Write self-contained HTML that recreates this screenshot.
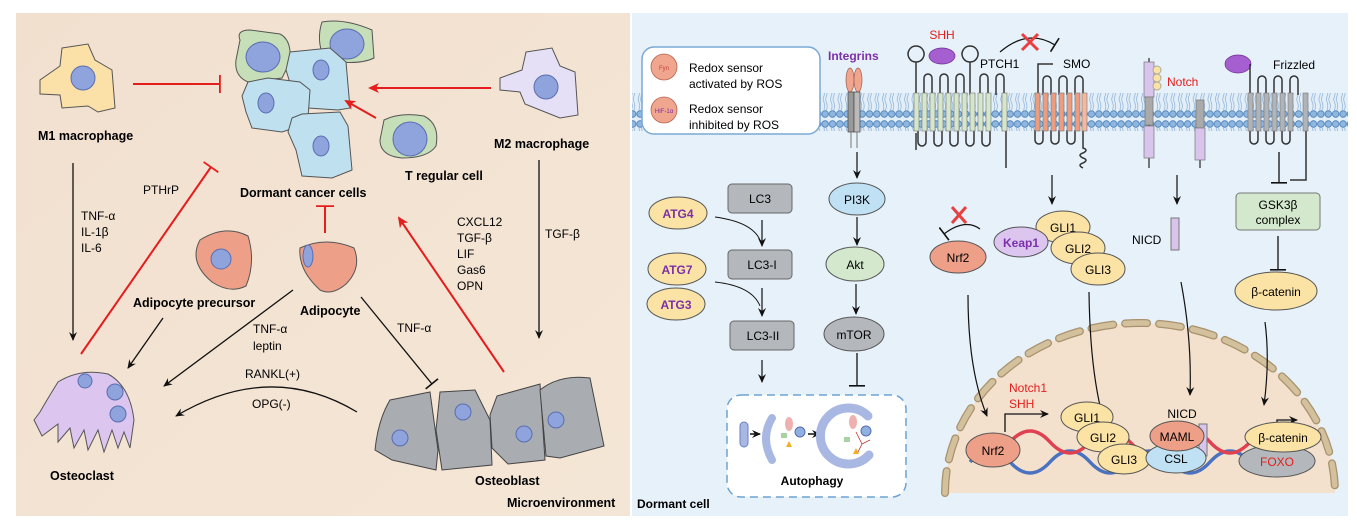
<!DOCTYPE html>
<html><head><meta charset="utf-8"><style>
html,body{margin:0;padding:0;background:#fff;}
svg{display:block;font-family:"Liberation Sans",sans-serif;}
.b{font-weight:bold;}
</style></head><body>
<svg width="1357" height="528" viewBox="0 0 1357 528" xmlns="http://www.w3.org/2000/svg">
<defs>
<linearGradient id="lp" x1="0" y1="0" x2="1" y2="1"><stop offset="0" stop-color="#f2e0cf"/><stop offset="1" stop-color="#f4e6d6"/></linearGradient>
<marker id="ab" markerWidth="10" markerHeight="10" refX="8" refY="5" orient="auto" markerUnits="userSpaceOnUse"><path d="M0,1 L9,5 L0,9 L3,5z" fill="#111"/></marker>
<marker id="ar" markerWidth="12" markerHeight="12" refX="9" refY="6" orient="auto" markerUnits="userSpaceOnUse"><path d="M0,1 L11,6 L0,11 L3,6z" fill="#e41d1d"/></marker>
<marker id="tb" markerWidth="4" markerHeight="16" refX="2" refY="8" orient="auto" markerUnits="userSpaceOnUse"><rect x="1" y="0" width="1.6" height="16" fill="#111"/></marker>
<marker id="tr" markerWidth="4" markerHeight="18" refX="2" refY="9" orient="auto" markerUnits="userSpaceOnUse"><rect x="1" y="0" width="1.8" height="18" fill="#e41d1d"/></marker>
<pattern id="heads" x="0" y="0" width="7.4" height="40" patternUnits="userSpaceOnUse">
<circle cx="3.7" cy="4" r="3.3" fill="#8fb6de" stroke="#4a7fb8" stroke-width="0.8"/>
<circle cx="3.7" cy="34" r="3.3" fill="#8fb6de" stroke="#4a7fb8" stroke-width="0.8"/>
<path d="M2.5,8 q1.5,4 0,8 q-1.5,4 0,6 M5,8 q1.5,4 0,8 q-1.5,4 0,6 M2.5,30 q1.5,-4 0,-8 M5,30 q1.5,-4 0,-8" stroke="#7aa3cf" stroke-width="0.6" fill="none"/>
</pattern>
</defs>

<!-- LEFT PANEL -->
<rect x="16" y="13" width="614" height="503" fill="url(#lp)"/>
<path d="M62,48 L88,44 L95,60 L112,70 L115,108 L98,112 L88,106 L62,108 L60,95 L40,94 L40,80 L60,66z" fill="#fbe0a8" stroke="#555" stroke-width="1"/>
<circle cx="83" cy="78" r="12" fill="#8fa3dc" stroke="#5a6db0"/>
<text x="38" y="140" font-size="12.5" class="b">M1 macrophage</text>
<line x1="133" y1="84" x2="220" y2="84" stroke="#e41d1d" stroke-width="2" marker-end="url(#tr)"/>
<path d="M240,40 Q236,30 250,30 L280,34 Q292,40 290,62 L282,78 L248,82 Q234,76 236,60z" fill="#c6dfb8" stroke="#555"/>
<ellipse cx="263" cy="57" rx="17" ry="15" fill="#8fa3dc" stroke="#5a6db0"/>
<path d="M328,22 Q350,18 378,30 L380,58 Q368,64 346,62 L330,58 Q322,40 328,22z" fill="#c6dfb8" stroke="#555" transform="translate(-6,0)"/>
<ellipse cx="347" cy="44" rx="17" ry="15" fill="#8fa3dc" stroke="#5a6db0"/>
<path d="M290,52 L330,48 L346,62 L350,108 L338,110 L308,108 L294,96 L286,70z" fill="#bfe1ef" stroke="#555"/>
<ellipse cx="321" cy="70" rx="8" ry="10" fill="#8fa3dc" stroke="#5a6db0"/>
<path d="M248,82 L268,78 L300,82 L310,90 L308,118 L300,126 L282,132 L252,128 L246,112 L242,96z" fill="#bfe1ef" stroke="#555"/>
<ellipse cx="266" cy="103" rx="8" ry="10" fill="#8fa3dc" stroke="#5a6db0"/>
<path d="M292,118 L302,114 L340,112 L348,126 L352,170 L332,178 L302,176 L296,150 L288,132z" fill="#bfe1ef" stroke="#555"/>
<ellipse cx="321" cy="146" rx="8" ry="10" fill="#8fa3dc" stroke="#5a6db0"/>
<text x="240" y="197" font-size="12.5" class="b">Dormant cancer cells</text>
<path d="M526,52 L552,48 L560,66 L575,72 L578,115 L560,118 L545,112 L525,104 L520,92 L500,90 L500,78 L522,70z" fill="#e6e0f6" stroke="#555"/>
<circle cx="546" cy="87" r="12" fill="#8fa3dc" stroke="#5a6db0"/>
<text x="494" y="148" font-size="12.5" class="b">M2 macrophage</text>
<line x1="491" y1="88" x2="370" y2="88" stroke="#e41d1d" stroke-width="2" marker-end="url(#ar)"/>
<path d="M384,120 Q400,112 424,116 Q440,124 436,146 Q428,158 402,158 Q380,156 380,140z" fill="#c6dfb8" stroke="#555"/>
<circle cx="410" cy="139" r="17" fill="#8fa3dc" stroke="#5a6db0"/>
<text x="405" y="180" font-size="12.5" class="b">T regular cell</text>
<line x1="376" y1="118" x2="346" y2="101" stroke="#e41d1d" stroke-width="2" marker-end="url(#ar)"/>
<line x1="73" y1="163" x2="73" y2="340" stroke="#111" stroke-width="1.3" marker-end="url(#ab)"/>
<text x="81" y="220" font-size="12">TNF-α</text><text x="81" y="236" font-size="12">IL-1β</text><text x="81" y="252" font-size="12">IL-6</text>
<text x="143" y="194" font-size="12">PTHrP</text>
<line x1="81" y1="354" x2="211" y2="167" stroke="#e41d1d" stroke-width="2" marker-end="url(#tr)"/>
<line x1="325" y1="233" x2="325" y2="206" stroke="#e41d1d" stroke-width="2" marker-end="url(#tr)"/>
<path d="M200,240 Q225,224 248,236 Q256,262 246,286 Q230,294 212,282 Q188,262 200,240z" fill="#ee9f88" stroke="#555"/>
<circle cx="221" cy="259" r="10" fill="#8fa3dc" stroke="#5a6db0"/>
<text x="133" y="307" font-size="12.5" class="b">Adipocyte precursor</text>
<path d="M300,248 Q326,236 354,248 Q362,268 346,284 Q332,296 320,290 Q298,270 300,248z" fill="#ee9f88" stroke="#555"/>
<ellipse cx="308" cy="256" rx="5" ry="11" fill="#8fa3dc" stroke="#5a6db0"/>
<text x="300" y="315" font-size="12.5" class="b">Adipocyte</text>
<text x="457" y="226" font-size="12">CXCL12</text><text x="457" y="242" font-size="12">TGF-β</text><text x="457" y="258" font-size="12">LIF</text><text x="457" y="274" font-size="12">Gas6</text><text x="457" y="290" font-size="12">OPN</text>
<line x1="504" y1="372" x2="399" y2="218" stroke="#e41d1d" stroke-width="2" marker-end="url(#ar)"/>
<text x="545" y="238" font-size="12">TGF-β</text>
<line x1="539" y1="160" x2="539" y2="338" stroke="#111" stroke-width="1.3" marker-end="url(#ab)"/>
<line x1="163" y1="318" x2="128" y2="368" stroke="#111" stroke-width="1.3" marker-end="url(#ab)"/>
<line x1="293" y1="290" x2="164" y2="386" stroke="#111" stroke-width="1.3" marker-end="url(#ab)"/>
<text x="253" y="333" font-size="12">TNF-α</text><text x="253" y="350" font-size="12">leptin</text>
<line x1="361" y1="297" x2="432" y2="384" stroke="#111" stroke-width="1.3" marker-end="url(#tb)"/>
<text x="397" y="332" font-size="12">TNF-α</text>
<text x="245" y="378" font-size="12">RANKL(+)</text>
<path d="M357,412 Q270,360 176,416" fill="none" stroke="#111" stroke-width="1.3" marker-end="url(#ab)"/>
<text x="252" y="408" font-size="12">OPG(-)</text>
<path d="M58,382 Q80,368 108,374 Q130,386 134,420 L130,448 L124,432 L118,448 L112,430 L104,452 L98,430 L88,450 L84,430 L74,448 L70,428 L58,442 L58,424 L42,436 L34,420 L40,412 Q48,398 58,382z" fill="#dcc6f0" stroke="#555"/>
<circle cx="85" cy="381" r="7" fill="#8fa3dc" stroke="#5a6db0"/>
<circle cx="115" cy="392" r="8" fill="#8fa3dc" stroke="#5a6db0"/>
<circle cx="118" cy="414" r="8" fill="#8fa3dc" stroke="#5a6db0"/>
<text x="50" y="480" font-size="12.5" class="b">Osteoclast</text>
<path d="M390,400 L430,392 L438,450 L436,470 L392,460 L375,450 Q378,420 390,400z" fill="#a9adb2" stroke="#444"/>
<path d="M440,392 L475,390 L490,420 L492,465 L442,470 L436,430z" fill="#a9adb2" stroke="#444"/>
<path d="M497,396 L540,384 L545,460 L508,464 L492,448 L490,415z" fill="#a9adb2" stroke="#444"/>
<path d="M540,390 Q560,374 590,378 L604,446 L560,458 L546,456z" fill="#a9adb2" stroke="#444"/>
<circle cx="400" cy="438" r="8" fill="#8fa3dc" stroke="#5a6db0"/>
<circle cx="463" cy="412" r="8" fill="#8fa3dc" stroke="#5a6db0"/>
<circle cx="524" cy="434" r="8" fill="#8fa3dc" stroke="#5a6db0"/>
<circle cx="556" cy="420" r="8" fill="#8fa3dc" stroke="#5a6db0"/>
<text x="475" y="485" font-size="12.5" class="b">Osteoblast</text>
<text x="507" y="507" font-size="12.5" class="b">Microenvironment</text>

<!-- RIGHT PANEL -->
<rect x="632" y="13" width="716" height="503" fill="#e7f1f9"/>
<rect x="632" y="93" width="716" height="38" fill="#e2eef8"/>
<rect x="632" y="93" width="716" height="38" fill="url(#heads)"/>
<rect x="642" y="47" width="178" height="87" rx="12" fill="#fff" stroke="#7aa9d6" stroke-width="1.5"/>
<circle cx="664" cy="67" r="13" fill="#f0a58e" stroke="#b7644f" stroke-width="0.8"/>
<text x="664" y="70" font-size="6" fill="#c04040" text-anchor="middle">Fyn</text>
<text x="689" y="72" font-size="12">Redox sensor</text><text x="689" y="88" font-size="12">activated by ROS</text>
<circle cx="664" cy="110" r="13" fill="#f0a58e" stroke="#b7644f" stroke-width="0.8"/>
<text x="664" y="113" font-size="6" fill="#8030a0" text-anchor="middle">HIF-1α</text>
<text x="689" y="113" font-size="12">Redox sensor</text><text x="689" y="129" font-size="12">inhibited by ROS</text>
<text x="828" y="60" font-size="12" fill="#7b2fa8" class="b">Integrins</text>
<ellipse cx="850" cy="80" rx="4" ry="12" fill="#f0a58e" stroke="#a06050" stroke-width="0.7"/>
<ellipse cx="858" cy="80" rx="4" ry="12" fill="#f0a58e" stroke="#a06050" stroke-width="0.7"/>
<rect x="848" y="92" width="6" height="40" fill="#999" stroke="#444" stroke-width="0.7"/>
<rect x="854" y="92" width="6" height="40" fill="#bbb" stroke="#444" stroke-width="0.7"/>
<line x1="851" y1="132" x2="851" y2="148" stroke="#777"/><line x1="857" y1="132" x2="857" y2="148" stroke="#777"/>
<line x1="857" y1="152" x2="857" y2="178" stroke="#111" stroke-width="1.2" marker-end="url(#ab)"/>
<ellipse cx="857" cy="199" rx="28" ry="16" fill="#bfe1f3" stroke="#555"/><text x="857" y="204" font-size="12" text-anchor="middle">PI3K</text>
<line x1="857" y1="217" x2="857" y2="245" stroke="#111" stroke-width="1.2" marker-end="url(#ab)"/>
<ellipse cx="855" cy="264" rx="29" ry="17" fill="#d3e8cc" stroke="#555"/><text x="855" y="269" font-size="12" text-anchor="middle">Akt</text>
<line x1="856" y1="284" x2="856" y2="314" stroke="#111" stroke-width="1.2" marker-end="url(#ab)"/>
<ellipse cx="854" cy="334" rx="30" ry="17" fill="#b4b8bc" stroke="#555"/><text x="854" y="339" font-size="12" text-anchor="middle">mTOR</text>
<line x1="857" y1="353" x2="857" y2="386" stroke="#111" stroke-width="1.3" marker-end="url(#tb)"/>
<rect x="728" y="184" width="64" height="29" rx="4" fill="#b4b8bc" stroke="#666"/><text x="760" y="203" font-size="12" text-anchor="middle">LC3</text>
<rect x="728" y="250" width="64" height="29" rx="4" fill="#b4b8bc" stroke="#666"/><text x="762" y="269" font-size="12" text-anchor="middle">LC3-I</text>
<rect x="730" y="321" width="64" height="29" rx="4" fill="#b4b8bc" stroke="#666"/><text x="763" y="340" font-size="12" text-anchor="middle">LC3-II</text>
<ellipse cx="678" cy="213" rx="29" ry="16" fill="#fbe3a6" stroke="#555"/><text x="678" y="218" font-size="12" class="b" fill="#7b2fa8" text-anchor="middle">ATG4</text>
<ellipse cx="677" cy="269" rx="29" ry="16" fill="#fbe3a6" stroke="#555"/><text x="677" y="274" font-size="12" class="b" fill="#7b2fa8" text-anchor="middle">ATG7</text>
<ellipse cx="676" cy="304" rx="29" ry="16" fill="#fbe3a6" stroke="#555"/><text x="676" y="309" font-size="12" class="b" fill="#7b2fa8" text-anchor="middle">ATG3</text>
<line x1="762" y1="220" x2="762" y2="246" stroke="#111" stroke-width="1.2" marker-end="url(#ab)"/>
<path d="M715,217 Q752,222 760,240" fill="none" stroke="#111" stroke-width="0.9"/>
<line x1="762" y1="288" x2="762" y2="316" stroke="#111" stroke-width="1.2" marker-end="url(#ab)"/>
<path d="M715,282 Q752,286 760,306" fill="none" stroke="#111" stroke-width="0.9"/>
<line x1="762" y1="360" x2="762" y2="382" stroke="#111" stroke-width="1.2" marker-end="url(#ab)"/>
<rect x="727" y="395" width="179" height="102" rx="14" fill="#fff" stroke="#6fa3d3" stroke-width="1.5" stroke-dasharray="8,5"/>
<rect x="740" y="422" width="8" height="25" rx="4" fill="#a9b7e3" stroke="#6c7fc0"/>
<path d="M772,418 Q760,438 772,460" fill="none" stroke="#a9b7e3" stroke-width="8" stroke-linecap="round"/>
<line x1="750" y1="434" x2="760" y2="434" stroke="#111" stroke-width="1.5" marker-end="url(#ab)"/>
<ellipse cx="789" cy="424" rx="4" ry="7" fill="#f0b0b0"/><circle cx="800" cy="432" r="5" fill="#8fb0e0" stroke="#5a6db0"/>
<rect x="781" y="433" width="6" height="5" fill="#a8d3a0"/><path d="M789,441 l3,6 h-6z" fill="#f0b020"/>
<line x1="808" y1="434" x2="820" y2="434" stroke="#111" stroke-width="1.5" marker-end="url(#ab)"/>
<path d="M868,416 A28,28 0 1 0 869,455" fill="none" stroke="#a9b7e3" stroke-width="9" stroke-linecap="round"/>
<ellipse cx="853" cy="422" rx="4" ry="7" fill="#f0b0b0"/><circle cx="866" cy="431" r="5" fill="#8fb0e0" stroke="#5a6db0"/>
<rect x="844" y="437" width="6" height="5" fill="#a8d3a0"/><path d="M856,448 l3,6 h-6z" fill="#f0b020"/>
<path d="M856,432 l6,12 l8,-4 M862,444 l-4,8" stroke="#c03030" fill="none" stroke-width="0.8"/>
<text x="812" y="485" font-size="12" class="b" text-anchor="middle">Autophagy</text>
<text x="637" y="508" font-size="12" class="b">Dormant cell</text>
<text x="942" y="39" font-size="12" fill="#e41d1d" text-anchor="middle">SHH</text>
<ellipse cx="942" cy="56" rx="13" ry="8" fill="#a55fd0" stroke="#6a3090" stroke-width="0.7"/>
<path d="M916,133 V 150 M916,95 V62 a8,8 0 1 1 0.1,0 M970,95 V62 a8,8 0 1 1 0.1,0 M1006,130 V168" fill="none" stroke="#333" stroke-width="1.5"/>
<path d="M924,95 V78 a4,4 0 0 1 8,0 V95 M940,95 V78 a4,4 0 0 1 8,0 V95 M956,95 V78 a4,4 0 0 1 8,0 V95 M980,95 V78 a4,4 0 0 1 8,0 V95 M996,95 V78 a4,4 0 0 1 8,0 V95 M918,130 v12 a4,4 0 0 0 8,0 v-12 M934,130 v12 a4,4 0 0 0 8,0 v-12 M950,130 v12 a4,4 0 0 0 8,0 v-12 M966,130 v12 a4,4 0 0 0 8,0 v-12 M982,130 v12 a4,4 0 0 0 8,0 v-12" fill="none" stroke="#333" stroke-width="1.5"/>
<g fill="#d5e6cc" stroke="#777" stroke-width="0.6">
<rect x="914" y="93" width="5" height="38"/><rect x="922" y="93" width="5" height="38"/><rect x="930" y="93" width="5" height="38"/><rect x="938" y="93" width="5" height="38"/><rect x="946" y="93" width="5" height="38"/><rect x="954" y="93" width="5" height="38"/><rect x="962" y="93" width="5" height="38"/><rect x="970" y="93" width="5" height="38"/><rect x="978" y="93" width="5" height="38"/><rect x="986" y="93" width="5" height="38"/><rect x="1002" y="93" width="5" height="38"/>
</g>
<text x="980" y="68" font-size="12">PTCH1</text>
<text x="1063" y="68" font-size="12">SMO</text>
<path d="M1000,52 Q1028,28 1055,45" fill="none" stroke="#111" stroke-width="1.2" marker-end="url(#tb)"/>
<path d="M1022,34 L1038,50 M1038,34 L1022,50" stroke="#e84040" stroke-width="3"/>
<path d="M1053,64 H1038 V95 M1035,130 v10 a4,4 0 0 0 8,0 v-10 M1051,130 v10 a4,4 0 0 0 8,0 v-10 M1067,130 v10 a4,4 0 0 0 8,0 v-10 M1043,95 V80 a4,4 0 0 1 8,0 V95 M1059,95 V80 a4,4 0 0 1 8,0 V95 M1075,95 V80 a4,4 0 0 1 8,0 V95 M1083,130 V148 q6,2 0,5 q-6,2 0,5 q6,2 0,5 q-6,2 0,5" fill="none" stroke="#333" stroke-width="1.5"/>
<g fill="#ee9c7e" stroke="#777" stroke-width="0.6">
<rect x="1035" y="93" width="5" height="38"/><rect x="1043" y="93" width="5" height="38"/><rect x="1051" y="93" width="5" height="38"/><rect x="1059" y="93" width="5" height="38"/><rect x="1067" y="93" width="5" height="38"/><rect x="1075" y="93" width="5" height="38"/><rect x="1082" y="93" width="5" height="38" fill="#f5b89e"/>
</g>
<line x1="1149" y1="58" x2="1149" y2="168" stroke="#333" stroke-width="1.3"/>
<rect x="1144" y="62" width="10" height="35" fill="#d9c4ec" stroke="#777" stroke-width="0.7"/>
<rect x="1145" y="97" width="8" height="28" fill="#aaa" stroke="#777" stroke-width="0.7"/>
<rect x="1144" y="126" width="10" height="32" fill="#d9c4ec" stroke="#777" stroke-width="0.7"/>
<circle cx="1157" cy="70" r="4" fill="#fbe3a6" stroke="#aa9"/><circle cx="1157" cy="78" r="4" fill="#fbe3a6" stroke="#aa9"/><circle cx="1157" cy="86" r="4" fill="#fbe3a6" stroke="#aa9"/>
<text x="1167" y="86" font-size="12" fill="#e41d1d">Notch</text>
<line x1="1200" y1="100" x2="1200" y2="168" stroke="#333" stroke-width="1.3"/>
<rect x="1196" y="100" width="8" height="28" fill="#aaa" stroke="#777" stroke-width="0.7"/>
<rect x="1195" y="128" width="10" height="32" fill="#d9c4ec" stroke="#777" stroke-width="0.7"/>
<ellipse cx="1238" cy="64" rx="13" ry="9" fill="#a55fd0" stroke="#6a3090" stroke-width="0.7"/>
<text x="1273" y="69" font-size="12">Frizzled</text>
<path d="M1250,64 V95 M1250,130 v10 a4,4 0 0 0 8,0 v-10 M1266,130 v10 a4,4 0 0 0 8,0 v-10 M1282,130 v10 a4,4 0 0 0 8,0 v-10 M1258,95 V80 a4,4 0 0 1 8,0 V95 M1274,95 V80 a4,4 0 0 1 8,0 V95 M1290,95 V80 a4,4 0 0 1 8,0 V95 M1306,130 V180 H1290" fill="none" stroke="#333" stroke-width="1.5"/>
<g fill="#b0b4b8" stroke="#777" stroke-width="0.6">
<rect x="1248" y="93" width="5" height="38"/><rect x="1256" y="93" width="5" height="38"/><rect x="1264" y="93" width="5" height="38"/><rect x="1272" y="93" width="5" height="38"/><rect x="1280" y="93" width="5" height="38"/><rect x="1288" y="93" width="5" height="38"/><rect x="1303" y="93" width="5" height="38"/>
</g>
<line x1="1279" y1="152" x2="1279" y2="183" stroke="#111" stroke-width="1.3" marker-end="url(#tb)"/>
<rect x="1236" y="193" width="84" height="37" rx="4" fill="#d3e8cc" stroke="#777"/>
<text x="1278" y="209" font-size="12" text-anchor="middle">GSK3β</text><text x="1278" y="224" font-size="12" text-anchor="middle">complex</text>
<line x1="1278" y1="236" x2="1278" y2="270" stroke="#111" stroke-width="1.3" marker-end="url(#tb)"/>
<ellipse cx="1276" cy="291" rx="41" ry="19" fill="#fbe3a6" stroke="#555"/><text x="1276" y="296" font-size="12" text-anchor="middle">β-catenin</text>
<line x1="1052" y1="175" x2="1052" y2="204" stroke="#111" stroke-width="1.2" marker-end="url(#ab)"/>
<ellipse cx="1063" cy="227" rx="27" ry="16" fill="#fbe3a6" stroke="#555"/><text x="1063" y="232" font-size="12" text-anchor="middle">GLI1</text>
<ellipse cx="1078" cy="248" rx="27" ry="16" fill="#fbe3a6" stroke="#555"/><text x="1078" y="253" font-size="12" text-anchor="middle">GLI2</text>
<ellipse cx="1098" cy="269" rx="27" ry="16" fill="#fbe3a6" stroke="#555"/><text x="1098" y="274" font-size="12" text-anchor="middle">GLI3</text>
<line x1="1177" y1="175" x2="1177" y2="204" stroke="#111" stroke-width="1.2" marker-end="url(#ab)"/>
<text x="1132" y="244" font-size="12">NICD</text>
<rect x="1171" y="218" width="8" height="32" fill="#d9c4ec" stroke="#777"/>
<ellipse cx="1021" cy="242" rx="27" ry="15" fill="#dcc6f0" stroke="#555"/><text x="1021" y="247" font-size="12" fill="#7b2fa8" class="b" text-anchor="middle">Keap1</text>
<ellipse cx="958" cy="257" rx="28" ry="16" fill="#ee9f88" stroke="#555"/><text x="958" y="262" font-size="12" text-anchor="middle">Nrf2</text>
<path d="M980,229 Q965,218 944,234" fill="none" stroke="#111" stroke-width="1.2" marker-end="url(#tb)"/>
<path d="M952,207 L966,223 M966,207 L952,223" stroke="#e84040" stroke-width="3"/>
<path d="M945,493 A195,170 0 0 1 1335,493 Z" fill="#f3e1ce"/>
<path d="M945,493 A195,170 0 0 1 1335,493" fill="none" stroke="#a8916c" stroke-width="8" stroke-dasharray="22,12" stroke-linecap="round"/>
<path d="M945,493 A195,170 0 0 1 1335,493" fill="none" stroke="#d3c09c" stroke-width="5.5" stroke-dasharray="22,12" stroke-linecap="round"/>
<path d="M968,295 Q968,370 987,416" fill="none" stroke="#111" stroke-width="1.2" marker-end="url(#ab)"/>
<path d="M1089,292 Q1090,370 1103,418" fill="none" stroke="#111" stroke-width="1.2" marker-end="url(#ab)"/>
<path d="M1181,282 Q1192,340 1190,395" fill="none" stroke="#111" stroke-width="1.2" marker-end="url(#ab)"/>
<path d="M1265,322 Q1270,360 1264,405" fill="none" stroke="#111" stroke-width="1.2" marker-end="url(#ab)"/>
<text x="1009" y="392" font-size="12" fill="#e41d1d">Notch1</text><text x="1009" y="408" font-size="12" fill="#e41d1d">SHH</text>
<path d="M970,462 Q990,440 1010,462 T1050,462 T1090,462 T1130,462 T1170,462 T1210,462 T1250,462 T1290,462" fill="none" stroke="#4a72c0" stroke-width="3.5"/>
<path d="M970,442 Q990,464 1010,442 T1050,442 T1090,442 T1130,442 T1170,442 T1210,442 T1250,442 T1290,442 T1310,462" fill="none" stroke="#e04050" stroke-width="3.5"/>
<path d="M1005,432 V414 H1048" fill="none" stroke="#111" stroke-width="1.3" marker-end="url(#ab)"/>
<path d="M1277,440 V420 H1297" fill="none" stroke="#111" stroke-width="1.3" marker-end="url(#ab)"/>
<ellipse cx="993" cy="450" rx="27" ry="17" fill="#ee9f88" stroke="#555"/><text x="993" y="455" font-size="12" text-anchor="middle">Nrf2</text>
<ellipse cx="1087" cy="417" rx="26" ry="15" fill="#fbe3a6" stroke="#555"/><text x="1087" y="422" font-size="12" text-anchor="middle">GLI1</text>
<ellipse cx="1103" cy="437" rx="26" ry="15" fill="#fbe3a6" stroke="#555"/><text x="1103" y="442" font-size="12" text-anchor="middle">GLI2</text>
<ellipse cx="1124" cy="459" rx="26" ry="15" fill="#fbe3a6" stroke="#555"/><text x="1124" y="464" font-size="12" text-anchor="middle">GLI3</text>
<text x="1182" y="418" font-size="12" text-anchor="middle">NICD</text>
<rect x="1199" y="424" width="8" height="32" fill="#d9c4ec" stroke="#777"/>
<ellipse cx="1176" cy="458" rx="30" ry="15" fill="#bfe1f3" stroke="#555"/><text x="1176" y="463" font-size="12" text-anchor="middle">CSL</text>
<ellipse cx="1177" cy="436" rx="27" ry="15" fill="#ee9f88" stroke="#555"/><text x="1177" y="441" font-size="12" text-anchor="middle">MAML</text>
<ellipse cx="1277" cy="461" rx="38" ry="16" fill="#b4b8bc" stroke="#555"/><text x="1277" y="466" font-size="12" fill="#e41d1d" text-anchor="middle">FOXO</text>
<ellipse cx="1283" cy="437" rx="38" ry="15" fill="#fbe3a6" stroke="#555"/><text x="1283" y="442" font-size="12" text-anchor="middle">β-catenin</text>
</svg>
</body></html>
